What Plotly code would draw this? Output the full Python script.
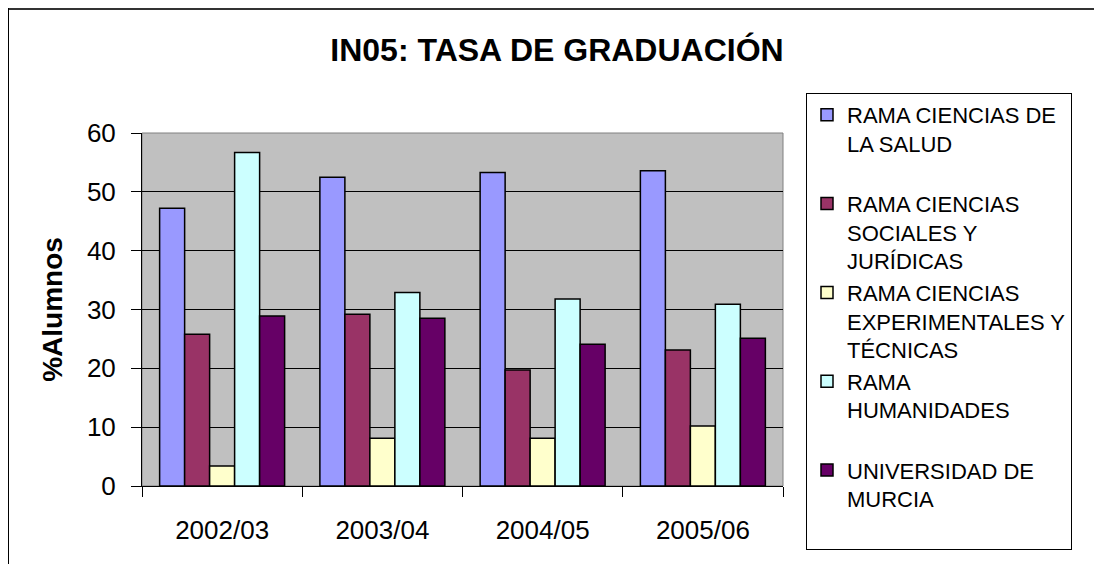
import plotly.graph_objects as go

# academic years on the x axis
years = ["2002/03", "2003/04", "2004/05", "2005/06"]

# graduation rate (% students) per branch
salud = [47.2, 52.5, 53.3, 53.6]
sociales = [25.8, 29.2, 19.7, 23.1]
experimentales = [3.4, 8.1, 8.1, 10.2]
humanidades = [56.7, 32.9, 31.8, 30.9]
universidad = [28.9, 28.5, 24.1, 25.1]

series_names = [
    "RAMA CIENCIAS DE<br>LA SALUD<br> ",
    "RAMA CIENCIAS<br>SOCIALES Y<br>JURÍDICAS",
    "RAMA CIENCIAS<br>EXPERIMENTALES Y<br>TÉCNICAS",
    "RAMA<br>HUMANIDADES<br> ",
    "UNIVERSIDAD DE<br>MURCIA<br> ",
]
series_values = [salud, sociales, experimentales, humanidades, universidad]
series_colors = ["#9999FF", "#993366", "#FFFFCC", "#CCFFFF", "#660066"]

FONT = "Liberation Sans, Arial, sans-serif"

fig = go.Figure()
for name, vals, col in zip(series_names, series_values, series_colors):
    fig.add_trace(go.Bar(
        x=years, y=vals, name=name,
        marker=dict(color=col, line=dict(color="black", width=1.5)),
    ))

# the page body adds an 8px offset, so figure coords = picture coords - 8
OFF = 8
L, R, T, B = 142 - OFF, 783 - OFF, 133 - OFF, 486 - OFF
W, H = 1102 - 2 * OFF, 572 - 2 * OFF
pw, ph = R - L, B - T

def px_x(v):
    return (v - OFF - L) / pw

def px_y(v):
    return (B - (v - OFF)) / ph

fig.update_layout(
    width=W, height=H,
    margin=dict(l=L, r=W - R, t=T, b=H - B),
    paper_bgcolor="white",
    plot_bgcolor="#C0C0C0",
    barmode="group",
    bargap=0.22,
    bargroupgap=0,
    font=dict(family=FONT, color="black"),
    title=dict(
        text="<b>IN05: TASA DE GRADUACIÓN</b>",
        font=dict(size=32, family=FONT, color="black"),
        xref="container", yref="container",
        x=(557 - OFF) / W, y=1 - (50 - OFF) / H, xanchor="center", yanchor="middle",
    ),
    legend=dict(
        x=px_x(806), y=px_y(93), xanchor="left", yanchor="top",
        bgcolor="white", bordercolor="black", borderwidth=1,
        font=dict(size=22, family=FONT, color="black"),
        valign="top",
        traceorder="normal",
        maxheight=600,
    ),
    showlegend=True,
    shapes=[
        # plot area border
        dict(type="rect", xref="paper", yref="paper", x0=0, x1=1, y0=0, y1=1,
             line=dict(color="#808080", width=1), layer="between"),
        # outer chart frame (top and left edges of the figure)
        dict(type="line", xref="paper", yref="paper",
             x0=px_x(OFF), x1=px_x(1200), y0=px_y(OFF + 0.5), y1=px_y(OFF + 0.5),
             line=dict(color="#333333", width=3)),
        dict(type="line", xref="paper", yref="paper",
             x0=px_x(OFF), x1=px_x(OFF), y0=px_y(OFF), y1=px_y(700),
             line=dict(color="black", width=2)),
    ],
)

fig.update_xaxes(
    type="category",
    showline=True, linecolor="black", linewidth=1,
    ticks="outside", tickson="boundaries", ticklen=10, tickcolor="black",
    tickfont=dict(size=26, family=FONT, color="black"),
    ticklabelstandoff=21,
    showgrid=False,
)
fig.update_yaxes(
    range=[0, 60], dtick=10,
    showline=True, linecolor="black", linewidth=1,
    ticks="outside", ticklen=10, tickcolor="black",
    tickfont=dict(size=26, family=FONT, color="black"),
    ticklabelstandoff=10,
    showgrid=True, gridcolor="black", gridwidth=1,
    zeroline=False,
    title=dict(text="<b>%Alumnos</b>", font=dict(size=28, family=FONT, color="black"),
               standoff=16),
)

fig.write_html("out.html")
